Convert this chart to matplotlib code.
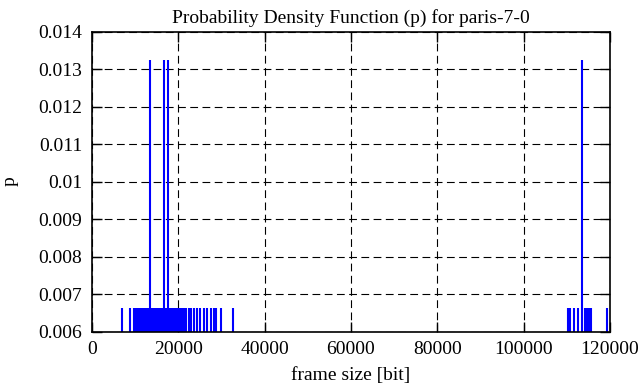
import matplotlib
matplotlib.use('Agg')
import matplotlib.pyplot as plt

plt.rcParams['font.family'] = ['Liberation Serif', 'DejaVu Serif']
plt.rcParams['font.size'] = 14

# frame sizes [bit] seen once (p = 1/151) and twice (p = 2/151)
single_sizes = [6950, 8800,
                9800, 10200, 10600, 11000, 11400, 11800, 12200, 12600, 13000,
                13400, 13800, 14200, 14600, 15000, 15400, 15800, 16200, 16600,
                17000, 17400, 17800, 18200, 18600, 19000, 19400, 19800, 20200,
                20600, 21000, 21300,
                21780, 22400, 22930, 23630, 24320, 24950, 25950, 26570, 27570,
                28260, 28730, 29880, 32590,
                110400, 110850, 111660, 112520,
                114200, 114650, 115100, 115530, 119300]
single_p = [0.00662] * len(single_sizes)
double_sizes = [13440, 16680, 17720, 113450]
double_p = [0.01325] * len(double_sizes)

yticks = [0.006, 0.007, 0.008, 0.009, 0.01, 0.011, 0.012, 0.013, 0.014]
ytick_labels = ["0.006", "0.007", "0.008", "0.009", "0.01", "0.011", "0.012", "0.013", "0.014"]
xticks = [0, 20000, 40000, 60000, 80000, 100000, 120000]

fig = plt.figure(figsize=(6.41, 3.87), dpi=100)
ax = fig.add_axes([0.1435, 0.1434, 0.808, 0.7752])

ax.vlines(single_sizes, 0.006, single_p, color='#0000ff', lw=1.5)
ax.vlines(double_sizes, 0.006, double_p, color='#0000ff', lw=1.5)

ax.set_xlim(0, 120000)
ax.set_ylim(0.006, 0.014)
ax.set_xticks(xticks)
ax.set_xticklabels([str(t) for t in xticks])
ax.set_yticks(yticks)
ax.set_yticklabels(ytick_labels)
ax.tick_params(direction='in', top=True, right=True, length=7, width=1, pad=7)
ax.grid(True, color='black', linestyle=(0, (7, 4)), lw=0.8)
ax.set_axisbelow(True)
for sp in ax.spines.values():
    sp.set_linewidth(1.2)

ax.set_title("Probability Density Function (p) for paris-7-0", fontsize=14, pad=6)
ax.set_xlabel("frame size [bit]", labelpad=6)
ax.set_ylabel("p", labelpad=14)

fig.savefig("out.png", dpi=100)
